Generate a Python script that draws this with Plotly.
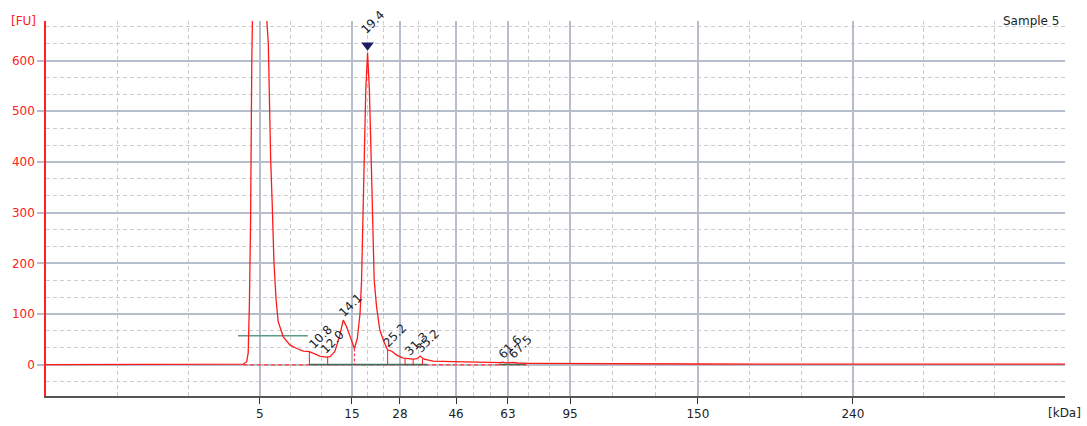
import plotly.graph_objects as go

# Electropherogram trace: migration time (s) vs fluorescence (FU)
time_s = [15.00, 21.40, 21.57, 21.69, 21.74, 21.78, 21.82, 21.86, 21.90, 22.00,
          22.10, 22.20, 22.30, 22.36, 22.41, 22.44, 22.49, 22.54, 22.60, 22.67,
          22.74, 22.91, 23.13, 23.36, 23.58, 23.78, 23.97, 24.13, 24.33, 24.47,
          24.63, 24.78, 24.91, 25.02, 25.16, 25.28, 25.38, 25.47, 25.52, 25.60,
          25.66, 25.72, 25.78, 25.85, 25.94, 26.02, 26.13, 26.27, 26.39, 26.52,
          26.69, 26.91, 27.10, 27.24, 27.37, 27.47, 27.60, 27.91, 28.57, 29.13,
          29.47, 30.13, 30.23, 30.33, 30.57, 30.73, 31.13, 32.40, 32.47, 32.57,
          36.80, 48.97]
fu = [0, 0, 1, 6, 23, 118, 282, 598, 900, 1350,
      1500, 1380, 960, 680, 635, 509, 404, 319, 201, 128,
      85, 55, 39, 32, 27, 26, 21, 17, 15, 16,
      26, 55, 88, 75, 52, 32, 52, 102, 167, 404,
      542, 615, 542, 384, 167, 114, 68, 45, 29, 27,
      19, 13, 12, 11, 12, 17, 11, 7, 6, 5,
      5, 4, 5, 3.7, 4.7, 3.4, 2.8, 2.4, 3.7, 2.2,
      1.4, 1]

# Ladder calibration: size (kDa) and migration time (s)
ladder_kda = [5, 15, 28, 46, 63, 95, 150, 240]
ladder_time = [22.13, 25.20, 26.80, 28.67, 30.40, 32.47, 36.73, 41.90]
time_range = [15.0, 48.97]

# Called peaks
peak_kda = [10.8, 12.0, 14.1, 19.4, 25.2, 31.3, 35.2, 61.6, 67.5]
peak_time = [23.90, 24.30, 24.91, 25.72, 26.39, 27.10, 27.47, 30.23, 30.57]
peak_fu = [25, 15, 88, 615, 29, 11, 17, 4, 5]

# Peak boundaries (drop lines to baseline)
bound_time = [23.78, 24.39, 26.39, 26.97, 27.24, 27.55]
bound_fu = [26, 15, 29, 12, 11, 11]
valley_time = [25.28]
valley_fu = [32]

# Integration baselines and lower-marker level
marker_level_time = [21.40, 23.73]
marker_level_fu = [57, 57]
base_segments = [[23.77, 27.70], [30.10, 30.97]]
baseline_region = [21.57, 31.03]

GRID = "#b6bdcb"
MINOR = "#cccccc"
FONT = "DejaVu Sans"

fig = go.Figure()

# dashed zero baseline under the signal region
fig.add_trace(go.Scatter(x=baseline_region, y=[0, 0], mode="lines",
                         line=dict(color="#ff5050", width=1.5, dash="4px,3px"),
                         hoverinfo="skip"))

# integration baselines
bx, by = [], []
for a, b in base_segments:
    bx += [a, b, None]
    by += [0.6, 0.6, None]
fig.add_trace(go.Scatter(x=bx, y=by, mode="lines",
                         line=dict(color="#3f6f5c", width=1.5), hoverinfo="skip"))

fig.add_trace(go.Scatter(x=marker_level_time, y=marker_level_fu, mode="lines",
                         line=dict(color="#5c9c86", width=1.5), hoverinfo="skip"))

# main trace
fig.add_trace(go.Scatter(x=time_s, y=fu, mode="lines",
                         line=dict(color="#ff1a1a", width=1.3), hoverinfo="skip"))

# peak boundary drop lines
dx, dy = [], []
for t, v in zip(bound_time, bound_fu):
    dx += [t, t, None]
    dy += [v, 0, None]
fig.add_trace(go.Scatter(x=dx, y=dy, mode="lines",
                         line=dict(color="#ff1a1a", width=1), hoverinfo="skip"))
vx, vy = [], []
for t, v in zip(valley_time, valley_fu):
    vx += [t, t, None]
    vy += [v, 0, None]
fig.add_trace(go.Scatter(x=vx, y=vy, mode="lines",
                         line=dict(color="#ff1a1a", width=1, dash="3px,2px"),
                         hoverinfo="skip"))

# marker on the tallest called peak
top = max(range(len(peak_fu)), key=lambda i: peak_fu[i])
fig.add_trace(go.Scatter(x=[peak_time[top]], y=[peak_fu[top] + 15], mode="markers",
                         marker=dict(symbol="triangle-down", size=11, color="#1c1c6b"),
                         hoverinfo="skip", cliponaxis=False))

# minor grid: thirds between consecutive ladder positions
bounds = [time_range[0]] + ladder_time + [time_range[1]]
minor_x = []
for a, b in zip(bounds[:-1], bounds[1:]):
    minor_x += [a + (b - a) / 3, a + 2 * (b - a) / 3]

annotations = []
for i, (k, t, v) in enumerate(zip(peak_kda, peak_time, peak_fu)):
    if i == top:
        xs, ys = -12, 14
    else:
        xs, ys = -10, -2
    annotations.append(dict(x=t, y=v, xref="x", yref="y", text=f"{k:.1f}",
                            showarrow=False, textangle=-45, xanchor="left",
                            yanchor="bottom", xshift=xs, yshift=ys,
                            font=dict(family=FONT, size=12, color="#1a1a2a")))

annotations += [
    dict(x=-0.0363, y=1.0, xref="paper", yref="paper", text="[FU]", showarrow=False,
         xanchor="left", yanchor="middle",
         font=dict(family=FONT, size=12, color="#ff2020")),
    dict(x=1.0175, y=-0.045, xref="paper", yref="paper", text="[kDa]", showarrow=False,
         xanchor="right", yanchor="middle",
         font=dict(family=FONT, size=12, color="#222222")),
    dict(x=0.9965, y=1.0, xref="paper", yref="paper", text="Sample 5", showarrow=False,
         xanchor="right", yanchor="middle",
         font=dict(family=FONT, size=12, color="#222222")),
]

fig.update_layout(
    width=1087, height=426,
    margin=dict(l=46, r=22, t=21, b=30),
    paper_bgcolor="white", plot_bgcolor="white",
    showlegend=False,
    annotations=annotations,
    xaxis=dict(
        range=time_range, tickmode="array", tickvals=ladder_time,
        ticktext=[str(k) for k in ladder_kda], automargin=False,
        showgrid=True, gridcolor=GRID, gridwidth=1.5,
        ticks="outside", ticklen=6, tickcolor="#333333", tickwidth=1,
        tickfont=dict(family=FONT, size=12, color="#222222"),
        showline=True, linecolor="#555555", linewidth=2,
        zeroline=False,
        minor=dict(tickmode="array", tickvals=minor_x, showgrid=True,
                   gridcolor=MINOR, griddash="4px,3px", gridwidth=1, ticks=""),
    ),
    yaxis=dict(
        range=[-61.7, 677.9], tickmode="array", tickvals=[0, 100, 200, 300, 400, 500, 600],
        automargin=False,
        showgrid=True, gridcolor=GRID, gridwidth=1.5,
        ticks="outside", ticklen=7, tickcolor=GRID, tickwidth=1.5,
        tickfont=dict(family=FONT, size=12, color="#ff2020"),
        showline=True, linecolor="#ff2020", linewidth=1.5,
        zeroline=False,
        minor=dict(dtick=100 / 3, tick0=0, showgrid=True,
                   gridcolor=MINOR, griddash="4px,3px", gridwidth=1, ticks=""),
    ),
)

fig.write_html("out.html")
